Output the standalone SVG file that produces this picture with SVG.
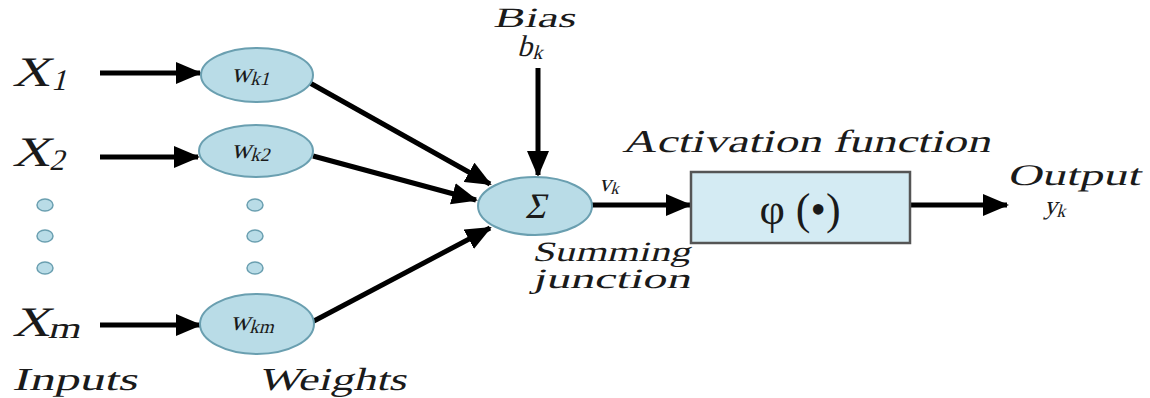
<svg xmlns="http://www.w3.org/2000/svg" width="1150" height="398" viewBox="0 0 1150 398">
<defs>
<marker id="ah" markerUnits="userSpaceOnUse" markerWidth="26" markerHeight="22" refX="24" refY="11" orient="auto">
<path d="M0,0 L26,11 L0,22 Z" fill="#000"/>
</marker>
<style>
.lbl{font-family:"Liberation Serif","Times New Roman",serif;font-style:normal;fill:#1a1a1a}
.node{fill:#b9dce7;stroke:#6a9fb0;stroke-width:2}
.dot{fill:#b9dce7;stroke:#6a9fb0;stroke-width:1.5}
.edge{stroke:#000;stroke-width:5;fill:none;marker-end:url(#ah)}
</style>
</defs>
<rect width="1150" height="398" fill="#fff"/>

<g id="connectors">
<line class="edge" x1="100" y1="73" x2="200" y2="73"/>
<line class="edge" x1="100" y1="157" x2="198" y2="157"/>
<line class="edge" x1="100" y1="325" x2="200" y2="325"/>
<line class="edge" x1="310" y1="83" x2="490" y2="184"/>
<line class="edge" x1="313" y1="156" x2="476" y2="200"/>
<line class="edge" x1="312" y1="322" x2="490" y2="228"/>
<line class="edge" x1="538" y1="68" x2="538" y2="175"/>
<line class="edge" x1="592" y1="205" x2="690" y2="205"/>
<line class="edge" x1="910" y1="205" x2="1007" y2="205"/>
</g>

<g id="input-x1" transform="translate(12,86) skewX(-15)"><text class="lbl" x="0" y="0" font-size="42" textLength="38" lengthAdjust="spacingAndGlyphs">X</text><text class="lbl" x="40" y="4" font-size="30">1</text></g>
<g id="input-x2" transform="translate(12,166) skewX(-15)"><text class="lbl" x="0" y="0" font-size="42" textLength="38" lengthAdjust="spacingAndGlyphs">X</text><text class="lbl" x="38" y="4" font-size="30">2</text></g>
<g id="input-xm" transform="translate(12,336) skewX(-15)"><text class="lbl" x="0" y="0" font-size="42" textLength="38" lengthAdjust="spacingAndGlyphs">X</text><text class="lbl" x="36" y="2" font-size="30" textLength="32" lengthAdjust="spacingAndGlyphs">m</text></g>
<g id="input-dots">
<ellipse class="dot" cx="45" cy="205" rx="8" ry="6"/>
<ellipse class="dot" cx="45" cy="236" rx="8" ry="6"/>
<ellipse class="dot" cx="45" cy="268" rx="8" ry="6"/>
</g>
<g id="label-inputs" transform="translate(12,390) skewX(-15)"><text class="lbl" x="0" y="0" font-size="32" textLength="125" lengthAdjust="spacingAndGlyphs">Inputs</text></g>

<g id="weight-1"><ellipse class="node" cx="257" cy="75" rx="56" ry="27"/>
<g transform="translate(231,82) skewX(-15)"><text class="lbl" x="0" y="0" font-size="28">w</text><text class="lbl" x="20" y="3" font-size="19">k1</text></g></g>
<g id="weight-2"><ellipse class="node" cx="256" cy="151" rx="57" ry="26"/>
<g transform="translate(231,158) skewX(-15)"><text class="lbl" x="0" y="0" font-size="28">w</text><text class="lbl" x="20" y="3" font-size="19">k2</text></g></g>
<g id="weight-dots">
<ellipse class="dot" cx="255" cy="205" rx="8" ry="6"/>
<ellipse class="dot" cx="255" cy="236" rx="8" ry="6"/>
<ellipse class="dot" cx="255" cy="268" rx="8" ry="6"/>
</g>
<g id="weight-m"><ellipse class="node" cx="257" cy="324" rx="57" ry="30"/>
<g transform="translate(230,330) skewX(-15)"><text class="lbl" x="0" y="0" font-size="28">w</text><text class="lbl" x="20" y="3" font-size="19">km</text></g></g>
<g id="label-weights" transform="translate(258,390) skewX(-15)"><text class="lbl" x="0" y="0" font-size="32" textLength="148" lengthAdjust="spacingAndGlyphs">Weights</text></g>

<g id="bias"><g transform="translate(493,27) skewX(-15)"><text class="lbl" x="0" y="0" font-size="28" textLength="82" lengthAdjust="spacingAndGlyphs">Bias</text></g>
<g transform="translate(517,56) skewX(-15)"><text class="lbl" x="0" y="0" font-size="30">b</text><text class="lbl" x="16" y="3" font-size="20">k</text></g></g>

<g id="summing-junction"><ellipse class="node" cx="535" cy="206" rx="57" ry="29"/>
<g transform="translate(535,218) skewX(-15)"><text class="lbl" x="0" y="0" font-size="36" text-anchor="middle">Σ</text></g></g>
<g id="label-summing"><g transform="translate(532,261) skewX(-15)"><text class="lbl" x="0" y="0" font-size="28" textLength="158" lengthAdjust="spacingAndGlyphs">Summing</text></g>
<g transform="translate(532,288) skewX(-15)"><text class="lbl" x="0" y="0" font-size="28" textLength="158" lengthAdjust="spacingAndGlyphs">junction</text></g></g>
<g id="label-vk" transform="translate(599,191) skewX(-15)"><text class="lbl" x="0" y="0" font-size="24">v</text><text class="lbl" x="12" y="3" font-size="17">k</text></g>

<g id="activation"><g transform="translate(622,152) skewX(-15)"><text class="lbl" x="0" y="0" font-size="32" textLength="368" lengthAdjust="spacingAndGlyphs">Activation function</text></g>
<rect x="691" y="172" width="219" height="71" fill="#d4ebf3" stroke="#555" stroke-width="2.5"/>
<text class="lbl" x="800" y="224" font-size="44" text-anchor="middle">φ (•)</text></g>

<g id="output"><g transform="translate(1007,185) skewX(-15)"><text class="lbl" x="0" y="0" font-size="30" textLength="133" lengthAdjust="spacingAndGlyphs">Output</text></g>
<g transform="translate(1044,214) skewX(-15)"><text class="lbl" x="0" y="0" font-size="26">y</text><text class="lbl" x="13" y="3" font-size="18">k</text></g></g>
</svg>
